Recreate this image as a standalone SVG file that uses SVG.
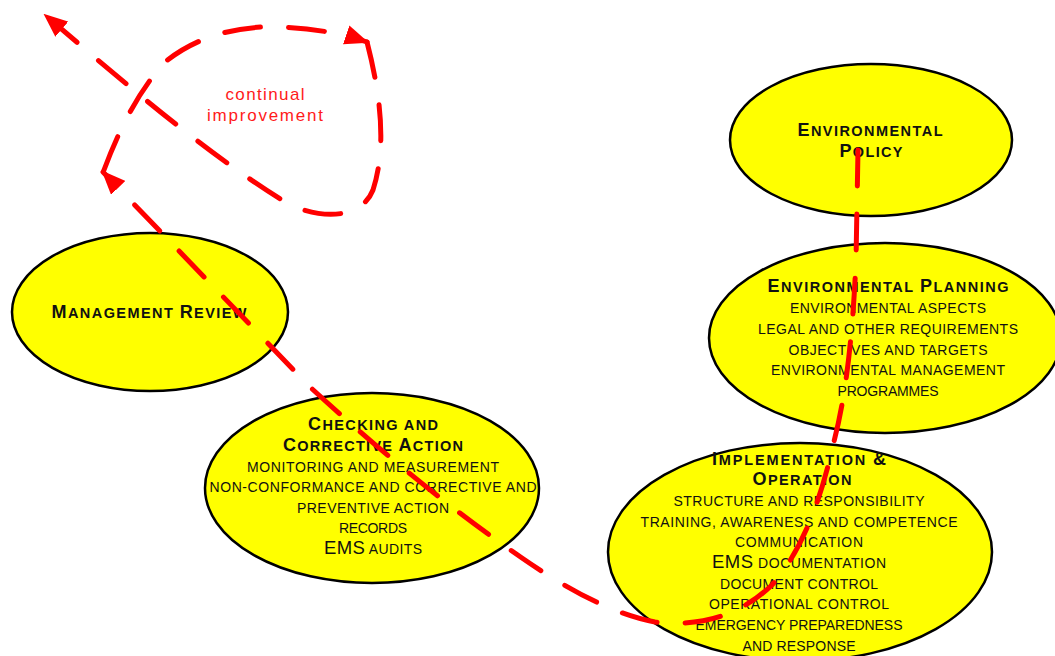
<svg xmlns="http://www.w3.org/2000/svg" width="1055" height="656" viewBox="0 0 1055 656">
<style>
.node{fill:#ffff00;stroke:#000;stroke-width:2.5}
text{font-family:"Liberation Sans",Arial,sans-serif;fill:#111;text-anchor:middle}
.h{font-weight:bold;font-size:14.5px}
.h tspan.b{font-size:18px}
.t{font-size:14px}
.t tspan.b{font-size:18.5px}
.red{fill:none;stroke:#ff0000;stroke-width:5;stroke-dasharray:36 28;stroke-linecap:round}
.ci{fill:#ff1a1a;font-size:17px}
</style>
<defs>
<marker id="ah" viewBox="0 0 24 20" refX="22" refY="10" markerWidth="24" markerHeight="20" markerUnits="userSpaceOnUse" orient="auto">
<path d="M0,0 L24,10 L0,20 z" fill="#ff0000"/>
</marker>
</defs>
<g id="env-policy">
<ellipse class="node" cx="871" cy="140" rx="141" ry="76"/>
<text class="h" x="870" y="136" textLength="145"><tspan class="b">E</tspan>NVIRONMENTAL</text>
<text class="h" x="871" y="157" textLength="63"><tspan class="b">P</tspan>OLICY</text>
</g>
<g id="env-planning">
<ellipse class="node" cx="885" cy="338" rx="176" ry="95"/>
<text class="h" x="888" y="292" textLength="241"><tspan class="b">E</tspan>NVIRONMENTAL <tspan class="b">P</tspan>LANNING</text>
<text class="t" x="888" y="313" textLength="196">ENVIRONMENTAL ASPECTS</text>
<text class="t" x="888" y="334" textLength="260">LEGAL AND OTHER REQUIREMENTS</text>
<text class="t" x="888" y="355" textLength="199">OBJECTIVES AND TARGETS</text>
<text class="t" x="888" y="375" textLength="234">ENVIRONMENTAL MANAGEMENT</text>
<text class="t" x="888" y="396" textLength="101">PROGRAMMES</text>
</g>
<g id="management-review">
<ellipse class="node" cx="150" cy="312" rx="138" ry="79"/>
<text class="h" x="149" y="318" textLength="195"><tspan class="b">M</tspan>ANAGEMENT <tspan class="b">R</tspan>EVIEW</text>
</g>
<g id="checking">
<ellipse class="node" cx="372" cy="488" rx="167" ry="95"/>
<text class="h" x="373" y="430" textLength="130"><tspan class="b">C</tspan>HECKING AND</text>
<text class="h" x="373" y="451" textLength="180"><tspan class="b">C</tspan>ORRECTIVE <tspan class="b">A</tspan>CTION</text>
<text class="t" x="373" y="472" textLength="252">MONITORING AND MEASUREMENT</text>
<text class="t" x="373" y="492" textLength="327">NON-CONFORMANCE AND CORRECTIVE AND</text>
<text class="t" x="373" y="513" textLength="152">PREVENTIVE ACTION</text>
<text class="t" x="373" y="533" textLength="68">RECORDS</text>
<text class="t" x="373" y="554" textLength="98"><tspan class="b">EMS</tspan> AUDITS</text>
</g>
<g id="implementation">
<ellipse class="node" cx="800" cy="552" rx="192" ry="109"/>
<text class="h" x="799" y="465" textLength="174"><tspan class="b">I</tspan>MPLEMENTATION <tspan class="b">&amp;</tspan></text>
<text class="h" x="802" y="485" textLength="99"><tspan class="b">O</tspan>PERATION</text>
<text class="t" x="799" y="506" textLength="251">STRUCTURE AND RESPONSIBILITY</text>
<text class="t" x="799" y="527" textLength="317">TRAINING, AWARENESS AND COMPETENCE</text>
<text class="t" x="799" y="547" textLength="128">COMMUNICATION</text>
<text class="t" x="799" y="568" textLength="174"><tspan class="b">EMS</tspan> DOCUMENTATION</text>
<text class="t" x="799" y="589" textLength="158">DOCUMENT CONTROL</text>
<text class="t" x="799" y="609" textLength="180">OPERATIONAL CONTROL</text>
<text class="t" x="799" y="630" textLength="207">EMERGENCY PREPAREDNESS</text>
<text class="t" x="799" y="651" textLength="113">AND RESPONSE</text>
</g>
<g id="continual-improvement-label">
<text class="ci" x="265" y="100" textLength="79">continual</text>
<text class="ci" x="265" y="121" textLength="116">improvement</text>
</g>
<g id="connectors">
<path class="red" marker-end="url(#ah)" d="M858 150 L856 260 Q851 380 833 445 Q812 540 772 585 Q725 630 655 622 Q600 612 522 558 Q420 488 310 387 L103 172"/>
<path class="red" marker-end="url(#ah)" d="M104 170 Q130 100 165 62 Q205 30 262 27 Q320 26 367 42"/>
<path class="red" marker-end="url(#ah)" d="M367 42 C382 100 386 150 373 190 C363 215 330 222 290 205 C200 150 110 70 45 15"/>
</g>
</svg>
